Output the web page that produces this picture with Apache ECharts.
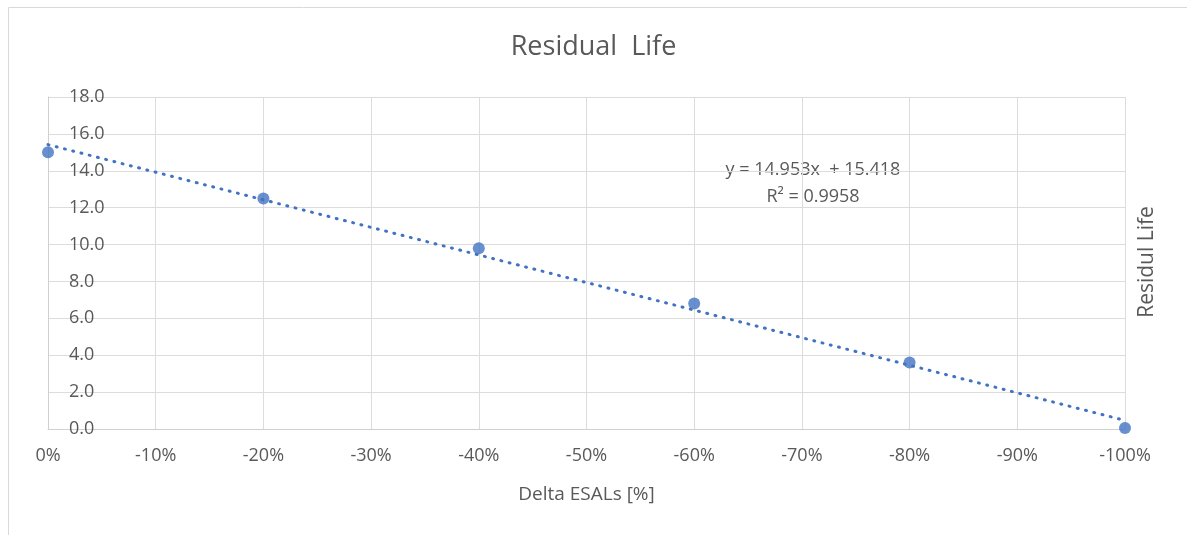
<!DOCTYPE html>
<html>
<head>
<meta charset="utf-8">
<script src="https://cdn.jsdelivr.net/npm/echarts@6/dist/echarts.min.js"></script>
<style>
html,body{margin:0;padding:0;background:#fff;}
#chart{width:1187px;height:535px;}
</style>
</head>
<body>
<div id="chart"></div>
<script>
// Data
var deltaEsals = [0, -0.2, -0.4, -0.6, -0.8, -1.0];
var residualLife = [15.0, 12.5, 9.8, 6.8, 3.6, 0.05];
// Trendline as stated on the chart: y = 14.953x + 15.418
var trendSlope = 14.953;
var trendIntercept = 15.418;
var trendX = [0, -1.0];
var equationText = ['y = 14.953x  + 15.418', 'R\u00B2 = 0.9958'];

var pts = deltaEsals.map(function (x, i) { return [x, residualLife[i]]; });
var trend = trendX.map(function (x) { return [x, trendSlope * x + trendIntercept]; });

var color = '#4273c2';
var txt = '#595959';
var font = '"Open Sans", "Noto Sans", sans-serif';

var chart = echarts.init(document.getElementById('chart'));
chart.setOption({
  animation: false,
  backgroundColor: '#fff',
  title: {
    text: 'Residual  Life',
    left: 'center',
    top: 29,
    textStyle: { color: txt, fontFamily: font, fontSize: 27, fontWeight: 'normal' }
  },
  grid: { left: 48, right: 62, top: 97, bottom: 106 },
  xAxis: {
    type: 'value',
    min: -1, max: 0, interval: 0.1,
    inverse: true,
    name: 'Delta ESALs [%]',
    nameLocation: 'middle',
    nameGap: 56,
    nameTextStyle: { color: txt, fontFamily: font, fontSize: 19 },
    axisLine: { show: true, lineStyle: { color: '#d0d0d0', width: 1 } },
    axisTick: { show: false },
    splitLine: { show: true, lineStyle: { color: '#dcdcdc', width: 1 } },
    axisLabel: {
      color: txt, fontFamily: font, fontSize: 18, margin: 18,
      formatter: function (v) { var p = Math.round(v * 100); return (p === 0 ? 0 : p) + '%'; }
    }
  },
  yAxis: {
    type: 'value',
    min: 0, max: 18, interval: 2,
    axisLine: { show: true, lineStyle: { color: '#d0d0d0', width: 1 } },
    axisTick: { show: false },
    splitLine: { show: true, lineStyle: { color: '#dcdcdc', width: 1 } },
    axisLabel: {
      inside: true, margin: 21,
      color: txt, fontFamily: font, fontSize: 18,
      formatter: function (v) { return v.toFixed(1); }
    }
  },
  graphic: [
    { type: 'rect', shape: { x: 8.5, y: 7.5, width: 1200, height: 600 }, style: { fill: 'none', stroke: '#d9d9d9', lineWidth: 1 }, silent: true, z: -1 },
    { type: 'text', x: 813, y: 170, style: { text: equationText[0], fill: txt, font: '18px ' + font, textAlign: 'center', textVerticalAlign: 'middle' } },
    { type: 'text', x: 813, y: 197, style: { text: equationText[1], fill: txt, font: '18px ' + font, textAlign: 'center', textVerticalAlign: 'middle' } },
    { type: 'text', x: 1147, y: 262, rotation: Math.PI / 2, style: { text: 'Residul Life', fill: txt, font: '21px ' + font, textAlign: 'center', textVerticalAlign: 'middle' } }
  ],
  series: [
    {
      type: 'line',
      data: trend,
      showSymbol: false,
      symbol: 'none',
      lineStyle: { color: color, width: 3, type: [1, 7.5], cap: 'round' },
      z: 2
    },
    {
      type: 'scatter',
      data: pts,
      symbol: 'circle',
      symbolSize: 12,
      itemStyle: { color: color },
      z: 3
    }
  ]
});
</script>
</body>
</html>
